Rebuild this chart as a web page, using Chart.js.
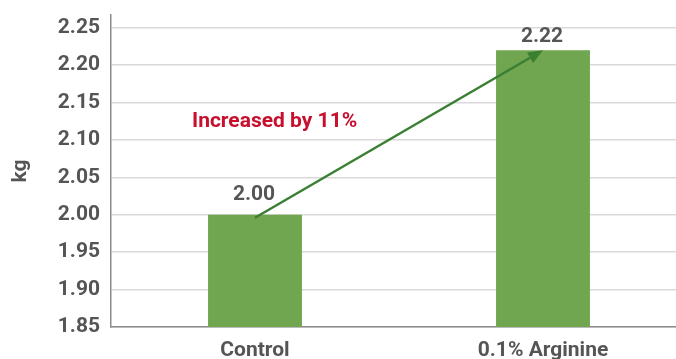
<!DOCTYPE html>
<html>
<head>
<meta charset="utf-8">
<script src="https://cdn.jsdelivr.net/npm/chart.js@4/dist/chart.umd.min.js"></script>
<style>
  html, body { margin: 0; padding: 0; background: #fff; overflow: hidden; }
  #wrap { width: 676px; height: 359px; overflow: hidden; position: relative; }
  #box { width: 687px; height: 359px; position: absolute; left: 0; top: 0; }
</style>
</head>
<body>
<div id="wrap"><div id="box"><canvas id="c"></canvas></div></div>
<script>
// Body weight per group (kg)
const categories = ['Control', '0.1% Arginine'];
const weights = [2.00, 2.22];
const yTicks = [1.85, 1.90, 1.95, 2.00, 2.05, 2.10, 2.15, 2.20, 2.25];
const yAxisTitle = 'kg';
const changeNote = 'Increased by 11%';

const FONT = 'Roboto, "DejaVu Sans", sans-serif';
const TEXT = '#555555';
const BAR = '#70a64f';
const ARROW = '#3b7f33';
const NOTE = '#c8102e';
const SIZE = 21;
// gap between each bar top and the baseline of its value label
const LABEL_GAP = [15, 8];

// Value labels above bars, the growth arrow and its note
const overlay = {
  id: 'overlay',
  afterDatasetsDraw(chart) {
    const ctx = chart.ctx;
    const meta = chart.getDatasetMeta(0);
    const y = chart.scales.y;
    ctx.save();

    // value labels
    ctx.font = 'bold ' + SIZE + 'px ' + FONT;
    ctx.fillStyle = TEXT;
    ctx.textAlign = 'center';
    ctx.textBaseline = 'alphabetic';
    meta.data.forEach((bar, i) => {
      ctx.fillText(weights[i].toFixed(2), bar.x - 1, bar.y - LABEL_GAP[i]);
    });

    // arrow from first bar top to second bar top
    const x0 = meta.data[0].x, y0 = y.getPixelForValue(weights[0]) + 3;
    const x1 = meta.data[1].x, y1 = y.getPixelForValue(weights[1]);
    const ang = Math.atan2(y1 - y0, x1 - x0);
    const headLen = 15, headW = 6;
    const bx = x1 - headLen * Math.cos(ang), by = y1 - headLen * Math.sin(ang);
    ctx.strokeStyle = ARROW;
    ctx.fillStyle = ARROW;
    ctx.lineWidth = 2.5;
    ctx.beginPath();
    ctx.moveTo(x0, y0);
    ctx.lineTo(bx, by);
    ctx.stroke();
    ctx.beginPath();
    ctx.moveTo(x1, y1);
    ctx.lineTo(bx + headW * Math.sin(ang), by - headW * Math.cos(ang));
    ctx.lineTo(bx - headW * Math.sin(ang), by + headW * Math.cos(ang));
    ctx.closePath();
    ctx.fill();

    // note
    ctx.font = 'bold ' + SIZE + 'px ' + FONT;
    ctx.fillStyle = NOTE;
    ctx.textAlign = 'left';
    ctx.textBaseline = 'middle';
    ctx.fillText(changeNote, x0 - 63, y.getPixelForValue(2.124));

    ctx.restore();
  }
};

const tickFont = { family: FONT, size: SIZE, weight: 'bold' };

new Chart(document.getElementById('c'), {
  type: 'bar',
  data: {
    labels: categories,
    datasets: [{
      data: weights,
      backgroundColor: BAR,
      borderWidth: 0,
      barPercentage: 1,
      categoryPercentage: 0.326
    }]
  },
  options: {
    responsive: true,
    maintainAspectRatio: false,
    animation: false,
    layout: { padding: { top: 15, right: 0, bottom: 0, left: 0 } },
    plugins: { legend: { display: false }, tooltip: { enabled: false } },
    scales: {
      x: {
        grid: { display: false, drawTicks: false },
        border: { color: '#8c8c8c', width: 1.5 },
        ticks: { color: TEXT, font: tickFont, padding: 11 },
        afterFit(s) { s.height = 32; s.paddingLeft = 0; s.paddingRight = 0; }
      },
      y: {
        min: 1.85,
        max: 2.267,
        afterBuildTicks(s) { s.ticks = yTicks.map(v => ({ value: v })); },
        grid: { color: '#d9d9d9', lineWidth: 1.5, drawTicks: false },
        border: { color: '#8c8c8c', width: 1.5 },
        ticks: {
          color: TEXT,
          font: tickFont,
          padding: 11,
          callback: v => Number(v).toFixed(2)
        },
        title: {
          display: true,
          text: yAxisTitle,
          color: TEXT,
          font: tickFont,
          padding: { top: 8, bottom: 0 }
        },
        afterFit(s) { s.width = 111; s.paddingTop = 0; s.paddingBottom = 0; }
      }
    }
  },
  plugins: [overlay]
});
</script>
</body>
</html>
